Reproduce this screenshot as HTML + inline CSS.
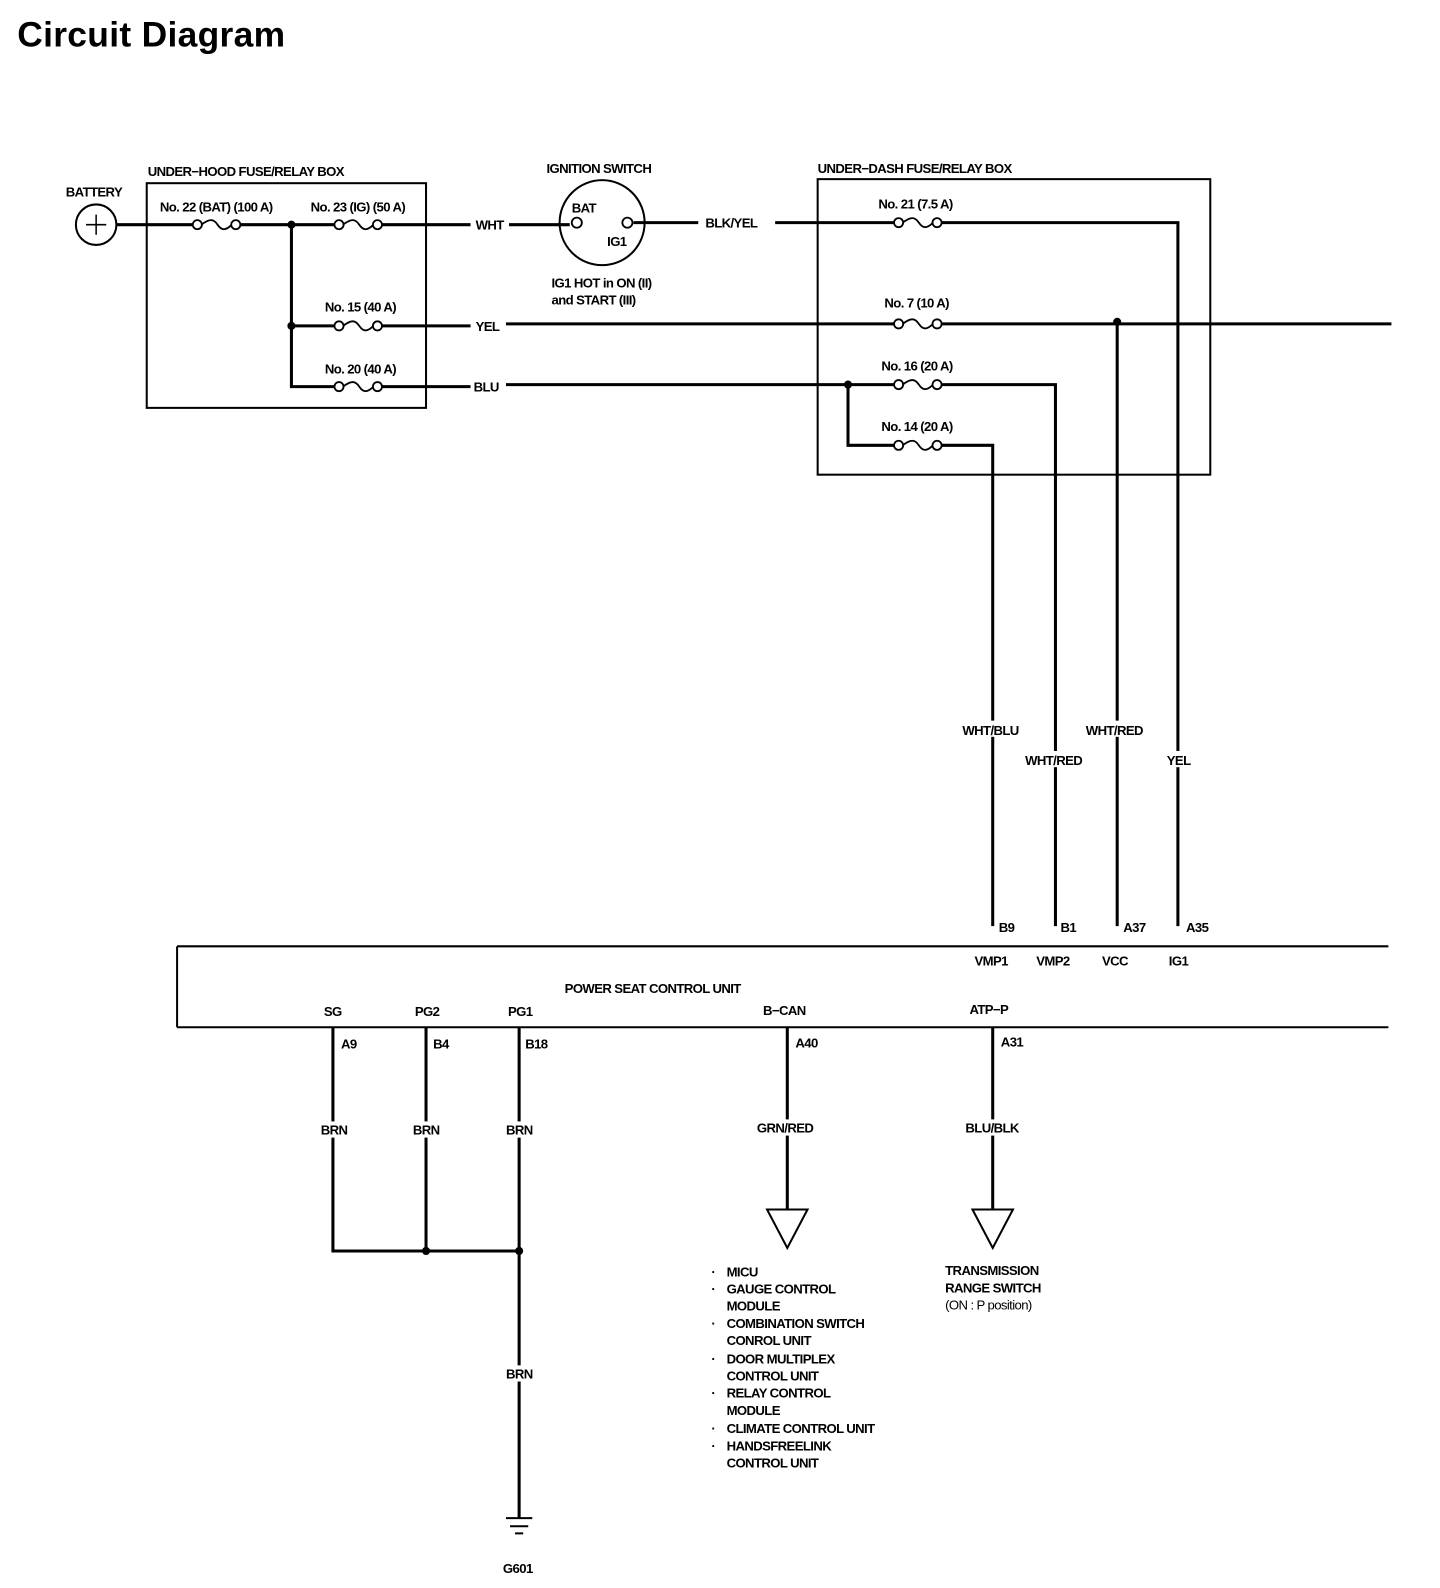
<!DOCTYPE html>
<html><head><style>
body{margin:0;background:#fff}
svg{display:block}
text{font-family:"Liberation Sans",sans-serif;font-weight:bold;font-size:13px;fill:#000;letter-spacing:-0.6px}
.w{stroke:#000;stroke-width:3;fill:none}
.t{stroke:#000;stroke-width:2;fill:none}
</style></head><body>
<svg width="1440" height="1588" viewBox="0 0 1423 1569" preserveAspectRatio="none" xmlns="http://www.w3.org/2000/svg">
<defs>
<g id="fuse"><circle cx="4" cy="0" r="4.5" fill="#fff" stroke="#000" stroke-width="1.8"/><path d="M8,0 C16,-6 20,-6 24,0 S32,6 38,0" fill="none" stroke="#000" stroke-width="1.8"/><circle cx="42" cy="0" r="4.5" fill="#fff" stroke="#000" stroke-width="1.8"/></g>
</defs>
<text x="17" y="46" style="font-size:35px;letter-spacing:0.3px">Circuit Diagram</text>
<rect x="145" y="181" width="276" height="222" class="t"/>
<rect x="808" y="177" width="388" height="292" class="t"/>
<text x="146" y="174">UNDER−HOOD FUSE/RELAY BOX</text>
<text x="808" y="171">UNDER−DASH FUSE/RELAY BOX</text>
<text x="540" y="171">IGNITION SWITCH</text>
<text x="65" y="194">BATTERY</text>
<circle cx="95" cy="222" r="20" class="t"/>
<path d="M85,222h20M95,212v20" stroke="#000" stroke-width="1.5"/>
<path class="w" d="M115,222H191M237,222H331M377,222H465M503,222H563M626,220H690M766,220H884M930,220H1164V915"/>
<use href="#fuse" x="191" y="222"/><use href="#fuse" x="331" y="222"/>
<use href="#fuse" x="884" y="220"/>
<text x="158" y="209">No. 22 (BAT) (100 A)</text>
<text x="307" y="209">No. 23 (IG) (50 A)</text>
<text x="470" y="227">WHT</text>
<text x="697" y="225">BLK/YEL</text>
<text x="868" y="206">No. 21 (7.5 A)</text>
<circle cx="595" cy="220" r="42" class="t"/>
<circle cx="570" cy="220" r="5" fill="#fff" stroke="#000" stroke-width="1.8"/>
<circle cx="620" cy="220" r="5" fill="#fff" stroke="#000" stroke-width="1.8"/>
<text x="565" y="210">BAT</text><text x="600" y="243">IG1</text>
<text x="545" y="284">IG1 HOT in ON (II)</text>
<text x="545" y="301">and START (III)</text>
<path class="w" d="M288,222V382H331M288,322H331M377,322H465M500,320H884M930,320H1375M377,382H465M500,380H884M930,380H1043V915M1104,318V915M838,380V440H884M930,440H981V915"/>
<use href="#fuse" x="331" y="322"/><use href="#fuse" x="331" y="382"/>
<use href="#fuse" x="884" y="320"/><use href="#fuse" x="884" y="380"/><use href="#fuse" x="884" y="440"/>
<circle cx="288" cy="222" r="4"/><circle cx="288" cy="322" r="4"/><circle cx="1104" cy="318" r="4"/><circle cx="838" cy="380" r="4"/>
<text x="321" y="308">No. 15 (40 A)</text>
<text x="321" y="369">No. 20 (40 A)</text>
<text x="470" y="327">YEL</text><text x="468" y="387">BLU</text>
<text x="874" y="304">No. 7 (10 A)</text>
<text x="871" y="366">No. 16 (20 A)</text>
<text x="871" y="426">No. 14 (20 A)</text>
<rect x="950" y="712" width="62" height="16" fill="#fff"/><text x="951" y="726">WHT/BLU</text>
<rect x="1012" y="742" width="62" height="16" fill="#fff"/><text x="1013" y="756">WHT/RED</text>
<rect x="1072" y="712" width="62" height="16" fill="#fff"/><text x="1073" y="726">WHT/RED</text>
<rect x="1152" y="742" width="26" height="16" fill="#fff"/><text x="1153" y="756">YEL</text>
<path class="t" d="M175,935H1372M175,1015H1372M175,935V1015"/>
<text x="987" y="921">B9</text><text x="1048" y="921">B1</text><text x="1110" y="921">A37</text><text x="1172" y="921">A35</text>
<text x="963" y="954">VMP1</text><text x="1024" y="954">VMP2</text><text x="1089" y="954">VCC</text><text x="1155" y="954">IG1</text>
<text x="558" y="981">POWER SEAT CONTROL UNIT</text>
<text x="320" y="1004">SG</text><text x="410" y="1004">PG2</text><text x="502" y="1004">PG1</text>
<text x="754" y="1003">B−CAN</text><text x="958" y="1002">ATP−P</text>
<text x="337" y="1036">A9</text><text x="428" y="1036">B4</text><text x="519" y="1036">B18</text>
<text x="786" y="1035">A40</text><text x="989" y="1034">A31</text>
<path class="w" d="M329,1015V1236H513M421,1015V1236M513,1015V1500M778,1015V1195M981,1015V1195"/>
<circle cx="421" cy="1236" r="4"/><circle cx="513" cy="1236" r="4"/>
<rect x="316" y="1108" width="28" height="16" fill="#fff"/><text x="317" y="1121">BRN</text>
<rect x="407" y="1108" width="28" height="16" fill="#fff"/><text x="408" y="1121">BRN</text>
<rect x="499" y="1108" width="28" height="16" fill="#fff"/><text x="500" y="1121">BRN</text>
<rect x="499" y="1349" width="28" height="16" fill="#fff"/><text x="500" y="1362">BRN</text>
<rect x="747" y="1106" width="62" height="16" fill="#fff"/><text x="748" y="1119">GRN/RED</text>
<rect x="953" y="1106" width="58" height="16" fill="#fff"/><text x="954" y="1119">BLU/BLK</text>
<path class="t" d="M758,1195H798L778,1233Z M961,1195H1001L981,1233Z"/>
<path class="t" d="M500,1500H526M504,1508H522M509,1515H517"/>
<text x="497" y="1554">G601</text>
<g>
<text x="718" y="1261">MICU</text>
<text x="718" y="1278">GAUGE CONTROL</text>
<text x="718" y="1295">MODULE</text>
<text x="718" y="1312">COMBINATION SWITCH</text>
<text x="718" y="1329">CONROL UNIT</text>
<text x="718" y="1347">DOOR MULTIPLEX</text>
<text x="718" y="1364">CONTROL UNIT</text>
<text x="718" y="1381">RELAY CONTROL</text>
<text x="718" y="1398">MODULE</text>
<text x="718" y="1416">CLIMATE CONTROL UNIT</text>
<text x="718" y="1433">HANDSFREELINK</text>
<text x="718" y="1450">CONTROL UNIT</text>
<text x="703" y="1261">·</text><text x="703" y="1278">·</text><text x="703" y="1312">·</text><text x="703" y="1347">·</text><text x="703" y="1381">·</text><text x="703" y="1416">·</text><text x="703" y="1433">·</text>
</g>
<text x="934" y="1260">TRANSMISSION</text>
<text x="934" y="1277">RANGE SWITCH</text>
<text x="934" y="1294" style="font-weight:normal">(ON : P position)</text>
</svg>
</body></html>
